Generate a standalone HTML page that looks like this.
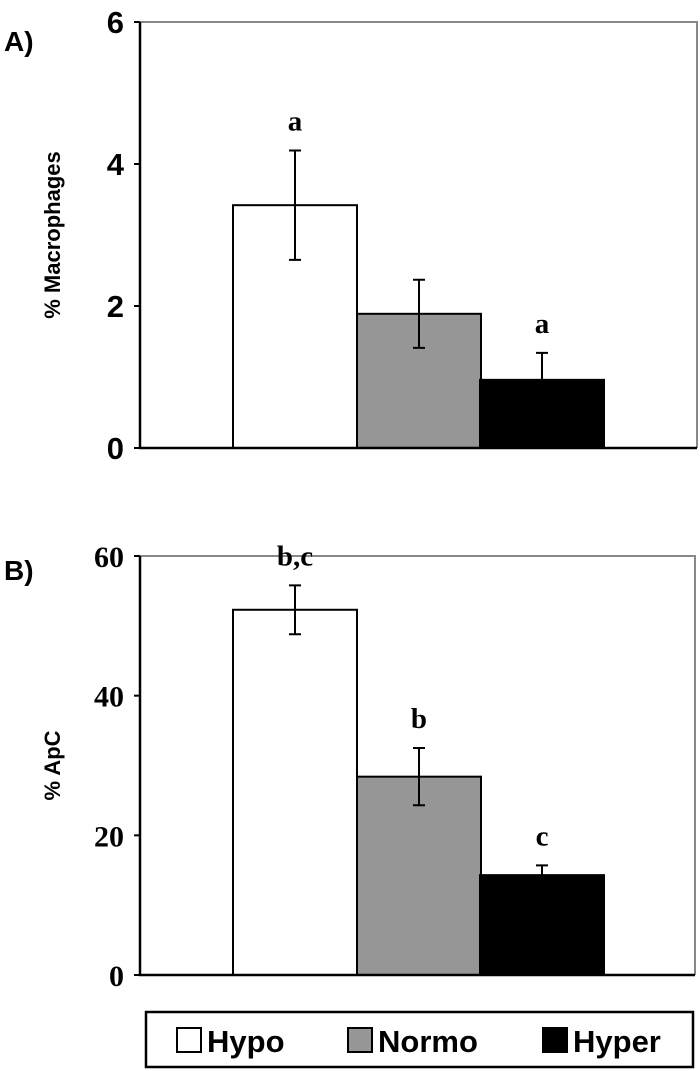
<!DOCTYPE html>
<html><head><meta charset="utf-8"><style>
body{margin:0;background:#fff}
svg{display:block}
</style></head><body>
<svg id="c" width="700" height="1071" xmlns="http://www.w3.org/2000/svg"></svg>
<script>
const categories=["Hypo","Normo","Hyper"];
const colors=["#ffffff","#969696","#000000"];
const macroValues=[3.42,1.89,0.96];
const macroErrors=[0.77,0.48,0.38];
const macroLetters=["a","","a"];
const macroTicks=[0,2,4,6];
const apcValues=[52.3,28.4,14.3];
const apcErrors=[3.5,4.1,1.4];
const apcLetters=["b,c","b","c"];
const apcTicks=[0,20,40,60];

const NS="http://www.w3.org/2000/svg";
const svg=document.getElementById('c');
function mk(t,a,p){const e=document.createElementNS(NS,t);for(const k in a)e.setAttribute(k,a[k]);(p||svg).appendChild(e);return e;}

function panel(o){
  const g=mk('g',{});
  
  
  const y=v=>o.y0-(v-o.min)/(o.max-o.min)*(o.y0-o.y1);
  const bx=[233,357,480];const bw=124;
  const f=mk('path',{d:`M${o.x0},${o.y1}H${o.x1}V${o.y0}`,fill:'none',stroke:'#888','stroke-width':2},g);
  
  
  o.values.forEach((v,i)=>{
    const r=mk('rect',{x:bx[i],y:y(v),width:bw,height:o.y0-y(v),fill:colors[i],stroke:'#000','stroke-width':2},g);
    
    
    const cx=bx[i]+bw/2, hi=y(v+o.errors[i]), lo=y(v-o.errors[i]);
    const eb=mk('path',{d:`M${cx},${hi}V${lo}M${cx-6},${hi}H${cx+6}M${cx-6},${lo}H${cx+6}`,stroke:'#000','stroke-width':2,fill:'none'},g);
    
    
    if(o.letters[i]){
      const t=mk('text',{x:cx,y:hi-20,'text-anchor':'middle','font-family':'Liberation Serif, serif','font-weight':'bold','font-size':29},g);
      t.textContent=o.letters[i];
      
      
    }
  });
  const ax=mk('path',{d:`M${o.x0},${o.y1}V${o.y0}H${o.x1}`,fill:'none',stroke:'#000','stroke-width':2.5},g);
  
  
  o.ticks.forEach(t=>{
    mk('line',{x1:o.x0-6,x2:o.x0,y1:y(t),y2:y(t),stroke:'#000','stroke-width':2},g);
    const tx=mk('text',{x:o.x0-16,y:y(t)+11,'text-anchor':'end','font-family':o.tickFont,'font-weight':'bold','font-size':o.tickSize},g);
    tx.textContent=t;
    
    
  });
  const yt=mk('text',{x:0,y:0,transform:`translate(${o.titleX},${(o.y0+o.y1)/2}) rotate(-90)`,'text-anchor':'middle','font-family':'Liberation Sans, sans-serif','font-weight':'bold','font-size':22},g);
  yt.textContent=o.title;
  
  
  const pl=mk('text',{x:4,y:o.labelY,'font-family':'Liberation Sans, sans-serif','font-weight':'bold','font-size':28},g);
  pl.textContent=o.label;
  
  
}
panel({name:'panel-a-macrophages',x0:140,x1:697,y0:448,y1:22,min:0,max:6,values:macroValues,errors:macroErrors,letters:macroLetters,ticks:macroTicks,tickFont:'Liberation Sans, sans-serif',tickSize:31,title:'% Macrophages',titleX:60,label:'A)',labelY:51});
panel({name:'panel-b-apc',x0:140,x1:695,y0:975,y1:556,min:0,max:60,values:apcValues,errors:apcErrors,letters:apcLetters,ticks:apcTicks,tickFont:'Liberation Serif, serif',tickSize:30,title:'% ApC',titleX:60,label:'B)',labelY:580});

const lg=mk('g',{});


mk('rect',{x:146,y:1012,width:547,height:55,fill:'#fff',stroke:'#000','stroke-width':2.5},lg);
const lx=[177,348,543];
categories.forEach((c,i)=>{
  const e=mk('g',{},lg);
  
  
  mk('rect',{x:lx[i],y:1028,width:24,height:24,fill:colors[i],stroke:'#000','stroke-width':2},e);
  const t=mk('text',{x:lx[i]+30,y:1052,'font-family':'Liberation Sans, sans-serif','font-weight':'bold','font-size':31},e);
  t.textContent=c;
});
</script>
</body></html>
